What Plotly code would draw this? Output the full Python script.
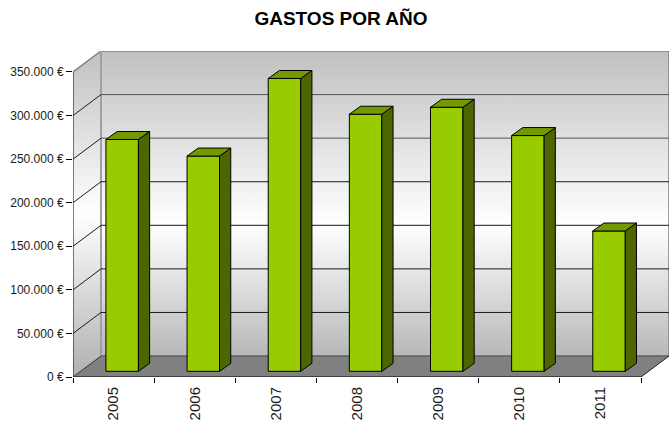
import plotly.graph_objects as go

years = ["2005", "2006", "2007", "2008", "2009", "2010", "2011"]
gastos = [266000, 247000, 336000, 295000, 303000, 270500, 161000]
y_ticks = [0, 50000, 100000, 150000, 200000, 250000, 300000, 350000]
y_tick_labels = ["0 €", "50.000 €", "100.000 €", "150.000 €", "200.000 €", "250.000 €", "300.000 €", "350.000 €"]

# oblique projection of the Excel-style 3D box
PX_CAT = 568 / 7
PX_EUR = 305.5 / 350000
DX = 28 / PX_CAT
DY = 21 / PX_EUR
X0, X1 = -0.5, 6.5
TOP = y_ticks[-1]
BAR_W = 32.5 / PX_CAT
BAR_OFF_X = 8.6 / PX_CAT
BAR_BASE = 5.7 / PX_EUR
SIDE_X = 11.2 / PX_CAT
SIDE_Y = 8 / PX_EUR

GRAD = [[0, "#b8b8b8"], [0.43, "#ffffff"], [1, "#c0c0c0"]]
GRAD_R = [[0, "#b0b0b0"], [0.5, "#ffffff"], [1, "#c0c0c0"]]


def poly(xs, ys, **kw):
    return go.Scatter(x=xs, y=ys, mode="lines", fill="toself", hoverinfo="skip",
                      showlegend=False, **kw)


def line(xs, ys, color, width=1, **kw):
    return go.Scatter(x=xs, y=ys, mode="lines", line=dict(color=color, width=width),
                      hoverinfo="skip", showlegend=False, cliponaxis=False, **kw)


fig = go.Figure()
# walls and floor
fig.add_trace(poly([X0 + DX, X1 + DX, X1 + DX, X0 + DX, X0 + DX],
                   [DY, DY, TOP + DY, TOP + DY, DY],
                   line=dict(width=0), fillgradient=dict(type="vertical", colorscale=GRAD)))
fig.add_trace(poly([X0, X0, X0 + DX, X0 + DX, X0],
                   [0, TOP, TOP + DY, DY, 0],
                   line=dict(width=0), fillgradient=dict(type="vertical", colorscale=GRAD_R)))
fig.add_trace(poly([X0, X1, X1 + DX, X0 + DX, X0], [0, 0, DY, DY, 0],
                   line=dict(width=0), fillcolor="#808080"))

# wall outline
fig.add_trace(line([X0, X0 + DX, X1 + DX, X1 + DX], [TOP, TOP + DY, TOP + DY, DY], "#808080", 1.5))
fig.add_trace(line([X0 + DX, X0 + DX], [TOP + DY, DY], "#a0a0a0", 2))
fig.add_trace(line([X0 + DX, X1 + DX], [DY, DY], "#606060", 1.5))
fig.add_trace(line([X1, X1 + DX], [0, DY], "#222222", 1))

# gridlines on the side wall, then the back wall (paler towards the top)
for v in y_ticks[1:-1]:
    fig.add_trace(line([X0, X0 + DX], [v, v + DY], "#1a1a1a", 1))
    fig.add_trace(line([X0 + DX, X1 + DX], [v + DY, v + DY],
                       "#555555" if v >= 250000 else "#1a1a1a", 1))
# axis lines
fig.add_trace(line([X0, X0], [0, TOP], "#000000", 1))
fig.add_trace(line([X0, X1], [0, 0], "#000000", 1))
fig.add_trace(line([X0, X0 + DX], [0, DY], "#333333", 1))

# bars on an overlaid pair of axes, so they sit above the walls
centres = [i + BAR_OFF_X for i in range(len(years))]
fig.add_trace(go.Bar(x=centres, y=gastos, base=BAR_BASE, width=BAR_W, xaxis="x2", yaxis="y2",
                     marker=dict(color="#99cc00", line=dict(color="#000000", width=1)),
                     showlegend=False, hoverinfo="skip"))
for c, v in zip(centres, gastos):
    l, r = c - BAR_W / 2, c + BAR_W / 2
    t = v + BAR_BASE
    fig.add_trace(poly([r, r + SIDE_X, r + SIDE_X, r, r],
                       [BAR_BASE, BAR_BASE + SIDE_Y, t + SIDE_Y, t, BAR_BASE],
                       line=dict(color="#000000", width=1), fillcolor="#4d6600",
                       xaxis="x2", yaxis="y2"))
    fig.add_trace(poly([l, r, r + SIDE_X, l + SIDE_X, l],
                       [t, t, t + SIDE_Y, t + SIDE_Y, t],
                       line=dict(color="#000000", width=1), fillcolor="#739900",
                       xaxis="x2", yaxis="y2"))

x_range = [X0, X1 + DX]
y_range = [0, TOP + DY]
fig.update_layout(
    width=669, height=423,
    margin=dict(l=73, r=0, t=51, b=45.5, pad=0),
    paper_bgcolor="#ffffff", plot_bgcolor="#ffffff",
    font=dict(family="Liberation Sans, Arial, sans-serif", color="#1a1a1a"),
    title=dict(text="<b>GASTOS POR AÑO</b>", x=341 / 669, xanchor="center", xref="container",
               y=1 - 18 / 423, yanchor="middle", font=dict(size=19, color="#000000")),
    xaxis=dict(range=x_range, showgrid=False, zeroline=False, showline=False,
               tickmode="array", tickvals=list(range(len(years))), ticktext=years, tickangle=-90,
               ticks="", tickfont=dict(size=15), ticklabelstandoff=6,
               minor=dict(tickmode="array", tickvals=[i - 0.5 for i in range(len(years) + 1)],
                          ticks="outside", ticklen=5, tickcolor="#000000", tickwidth=1)),
    yaxis=dict(range=y_range, showgrid=False, zeroline=False, showline=False,
               tickmode="array", tickvals=y_ticks, ticktext=y_tick_labels,
               ticks="outside", ticklen=6, tickcolor="#000000", tickwidth=1,
               tickfont=dict(size=12)),
    xaxis2=dict(range=x_range, overlaying="x", visible=False),
    yaxis2=dict(range=y_range, overlaying="y", visible=False),
)
fig.write_html("out.html", post_script="document.body.style.margin='0';",
               config=dict(displayModeBar=False))
